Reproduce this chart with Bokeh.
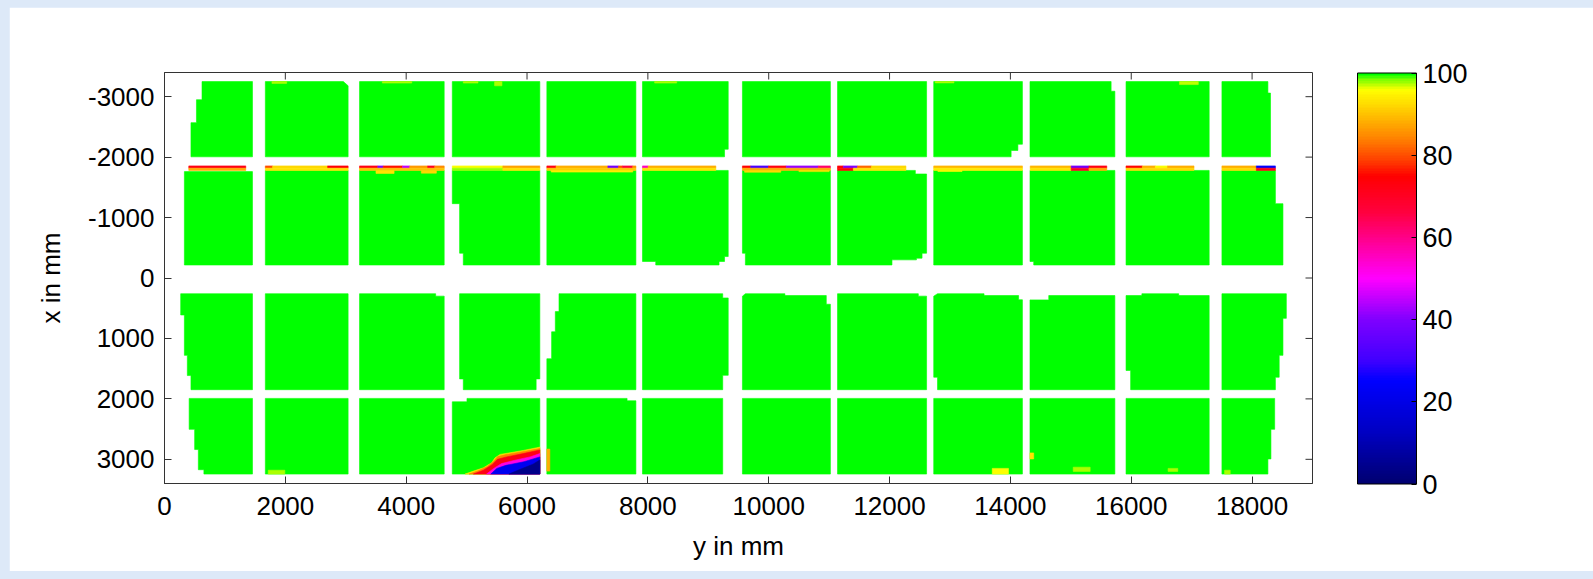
import math
from bokeh.plotting import figure
from bokeh.models import (Range1d, FixedTicker, ColorBar, LinearColorMapper, ColumnDataSource)
from bokeh.embed import file_html
from bokeh.resources import INLINE

# ---------------- data (mm) ----------------
# horizontal coordinate = "y in mm", vertical coordinate = "x in mm"
x_ticks = [0, 2000, 4000, 6000, 8000, 10000, 12000, 14000, 16000, 18000]
y_ticks = [-3000, -2000, -1000, 0, 1000, 2000, 3000]
cb_ticks = [0, 20, 40, 60, 80, 100]

panel_value = 100

row1_panels = [
    [(621, -3250), (1456, -3250), (1456, -2005), (438, -2005), (438, -2570), (529, -2570), (529, -2950), (621, -2950)],
    [(1669, -3250), (2960, -3250), (3039, -3180), (3039, -2005), (1669, -2005)],
    [(3228, -3250), (4629, -3250), (4629, -2005), (3228, -2005)],
    [(4763, -3250), (6212, -3250), (6212, -2005), (4763, -2005)],
    [(6328, -3250), (7802, -3250), (7802, -2005), (6328, -2005)],
    [(7911, -3250), (9330, -3250), (9330, -2130), (9269, -2130), (9269, -2005), (7911, -2005)],
    [(9565, -3250), (11021, -3250), (11021, -2005), (9565, -2005)],
    [(11139, -3250), (12613, -3250), (12613, -2005), (11139, -2005)],
    [(12731, -3250), (14199, -3250), (14199, -2213), (14124, -2213), (14124, -2110), (14012, -2110), (14012, -2005), (12731, -2005)],
    [(14324, -3250), (15667, -3250), (15667, -3090), (15729, -3090), (15729, -2005), (14324, -2005)],
    [(15914, -3250), (17290, -3250), (17290, -2005), (15914, -2005)],
    [(17501, -3250), (18262, -3250), (18262, -3060), (18305, -3060), (18305, -2005), (17501, -2005)],
]

row2_panels = [
    [(329, -1760), (1456, -1760), (1456, -215), (329, -215)],
    [(1669, -1780), (3039, -1780), (3039, -215), (1669, -215)],
    [(3228, -1780), (4629, -1780), (4629, -215), (3228, -215)],
    [(4763, -1780), (6212, -1780), (6212, -215), (4945, -215), (4945, -410), (4884, -410), (4884, -1230), (4763, -1230)],
    [(6328, -1780), (7802, -1780), (7802, -215), (6328, -215)],
    [(7911, -1780), (9330, -1780), (9330, -355), (9269, -355), (9269, -273), (9178, -273), (9178, -215), (8130, -215), (8130, -273), (7911, -273)],
    [(9565, -1780), (11021, -1780), (11021, -215), (9614, -215), (9614, -410), (9565, -410)],
    [(11139, -1780), (12427, -1780), (12427, -1721), (12613, -1721), (12613, -410), (12538, -410), (12538, -328), (12445, -328), (12445, -300), (12040, -300), (12040, -215), (11139, -215)],
    [(12731, -1780), (14199, -1780), (14199, -215), (12731, -215)],
    [(14324, -1780), (15729, -1780), (15729, -215), (14386, -215), (14386, -273), (14324, -273)],
    [(15914, -1780), (17290, -1780), (17290, -215), (15914, -215)],
    [(17501, -1780), (18386, -1780), (18386, -1230), (18511, -1230), (18511, -215), (17501, -215)],
]

row3_panels = [
    [(268, 260), (1456, 260), (1456, 1848), (438, 1848), (438, 1614), (378, 1614), (378, 1280), (329, 1280), (329, 612), (268, 612)],
    [(1669, 260), (3039, 260), (3039, 1848), (1669, 1848)],
    [(3228, 260), (4488, 260), (4488, 300), (4629, 300), (4629, 1848), (3228, 1848)],
    [(4884, 260), (6212, 260), (6212, 1670), (6151, 1670), (6151, 1848), (4945, 1848), (4945, 1670), (4884, 1670)],
    [(6529, 260), (7802, 260), (7802, 1848), (6328, 1848), (6328, 1336), (6407, 1336), (6407, 890), (6468, 890), (6468, 556), (6529, 556)],
    [(7911, 260), (9239, 260), (9239, 330), (9330, 330), (9330, 1610), (9239, 1610), (9239, 1848), (7911, 1848)],
    [(9614, 260), (10268, 260), (10268, 290), (10953, 290), (10953, 434), (11021, 434), (11021, 1848), (9565, 1848), (9565, 300)],
    [(11139, 260), (12476, 260), (12476, 300), (12613, 300), (12613, 1848), (11139, 1848)],
    [(12794, 260), (13564, 260), (13564, 290), (14136, 290), (14136, 360), (14199, 360), (14199, 1848), (12794, 1848), (12794, 1642), (12731, 1642), (12731, 300)],
    [(14324, 362), (14635, 362), (14635, 290), (15729, 290), (15729, 1848), (14324, 1848)],
    [(15914, 290), (16176, 290), (16176, 260), (16786, 260), (16786, 290), (17290, 290), (17290, 1848), (15990, 1848), (15990, 1530), (15914, 1530)],
    [(17501, 260), (18567, 260), (18567, 668), (18511, 668), (18511, 1280), (18449, 1280), (18449, 1642), (18386, 1642), (18386, 1848), (17501, 1848)],
]

row4_panels = [
    [(408, 1992), (1456, 1992), (1456, 3244), (652, 3244), (652, 3172), (560, 3172), (560, 2838), (499, 2838), (499, 2504), (408, 2504)],
    [(1669, 1992), (3039, 1992), (3039, 3244), (1669, 3244)],
    [(3228, 1992), (4629, 1992), (4629, 3244), (3228, 3244)],
    [(4763, 2048), (5006, 2048), (5006, 1992), (6212, 1992), (6212, 3244), (4763, 3244)],
    [(6328, 1992), (7656, 1992), (7656, 2031), (7802, 2031), (7802, 3244), (6328, 3244)],
    [(7911, 1992), (9239, 1992), (9239, 3244), (7911, 3244)],
    [(9565, 1992), (11021, 1992), (11021, 3244), (9565, 3244)],
    [(11139, 1992), (12613, 1992), (12613, 3244), (11139, 3244)],
    [(12731, 1992), (14199, 1992), (14199, 3244), (12731, 3244)],
    [(14324, 1992), (15729, 1992), (15729, 3244), (14324, 3244)],
    [(15914, 1992), (17290, 1992), (17290, 3244), (15914, 3244)],
    [(17501, 1992), (18374, 1992), (18374, 2504), (18312, 2504), (18312, 2994), (18262, 2994), (18262, 3244), (17501, 3244)],
]

# thin strip along the top of the second panel row: (start, end, value)
strip_upper_band = (-1855, -1817)
strip_upper = [
    (402, 1345, 72),
    (1669, 1790, 80), (1790, 2700, 92), (2700, 3039, 74),
    (3228, 3530, 72), (3530, 3620, 40), (3620, 3940, 76), (3940, 4060, 45), (4060, 4355, 86), (4355, 4473, 70), (4473, 4629, 85),
    (4763, 5600, 96), (5600, 6212, 87),
    (6328, 6480, 72), (6480, 7338, 88), (7338, 7515, 38), (7515, 7580, 80), (7580, 7750, 66), (7750, 7802, 85),
    (7911, 8005, 55), (8005, 9125, 88),
    (9565, 9702, 74), (9702, 9997, 32), (9997, 10290, 72), (10290, 10820, 42), (10820, 11021, 62),
    (11139, 11234, 74), (11234, 11470, 40), (11470, 11700, 82), (11700, 12271, 92),
    (12731, 14199, 89),
    (14328, 15006, 89), (15006, 15300, 38), (15300, 15595, 72),
    (15914, 16184, 75), (16184, 16400, 88), (16400, 16600, 96), (16600, 17039, 88),
    (17501, 18070, 88), (18070, 18386, 25),
]
strip_lower_band = (-1817, -1780)
strip_lower = [
    (402, 1345, 88),
    (1669, 3039, 93),
    (3228, 4629, 90),
    (4763, 5600, 98), (5600, 6212, 93),
    (6328, 7802, 91),
    (7911, 9125, 93),
    (9565, 11021, 88),
    (11139, 11400, 75), (11400, 12271, 93),
    (12731, 14199, 94),
    (14328, 15006, 93), (15006, 15300, 70), (15300, 15595, 88),
    (15914, 17039, 92),
    (17501, 18070, 92), (18070, 18386, 72),
]

# small spots: (h0, h1, v0, v1, value)
spots = [
    (3500, 3800, -1780, -1730, 93), (4250, 4500, -1780, -1735, 92),
    (6400, 7750, -1780, -1752, 94), (9600, 10200, -1780, -1750, 92),
    (10500, 11000, -1780, -1760, 93), (12800, 13200, -1780, -1762, 95),
    (1778, 2022, -3250, -3220, 97.5), (3605, 4093, -3250, -3225, 97.5),
    (4945, 5189, -3250, -3225, 97.5), (5463, 5585, -3250, -3180, 97.5),
    (8112, 8477, -3250, -3225, 97.5), (12756, 13067, -3250, -3228, 97.5),
    (16798, 17110, -3250, -3200, 97),
    (1717, 1991, 3180, 3244, 97.5), (13700, 13968, 3150, 3244, 96),
    (14324, 14386, 2894, 2994, 93), (15040, 15320, 3130, 3200, 97.5),
    (16610, 16770, 3150, 3200, 97.5), (17545, 17638, 3180, 3244, 97.5),
    (6328, 6378, 2831, 3195, 88),
]

# low-value region in the lower panel near y = 6000 mm (nested contours)
blob_values = [93, 84, 72, 52, 22, 4]
blob_contours = [
    [(4975, 3244), (5113, 3195), (5278, 3140), (5415, 3057), (5470, 2975), (5553, 2919), (5718, 2892), (5938, 2853), (6158, 2809), (6212, 2798), (6212, 3244)],
    [(5040, 3244), (5190, 3190), (5340, 3120), (5445, 3035), (5515, 2955), (5650, 2922), (5900, 2878), (6212, 2822), (6212, 3244)],
    [(5113, 3244), (5278, 3180), (5420, 3090), (5510, 3000), (5663, 2960), (5938, 2905), (6212, 2845), (6212, 3244)],
    [(5330, 3244), (5450, 3150), (5580, 3070), (5800, 3015), (6050, 2960), (6212, 2905), (6212, 3244)],
    [(5400, 3244), (5500, 3150), (5650, 3100), (5950, 3040), (6212, 2960), (6212, 3244)],
    [(5700, 3244), (5900, 3160), (6100, 3080), (6212, 3010), (6212, 3244)],
]

cmap_anchors = [(0, "#000070"), (12, "#0000c0"), (25, "#0000ff"), (30, "#4000ff"),
                (40, "#8000ff"), (50, "#ff00ff"), (58, "#ff00a0"), (66, "#ff0040"),
                (75, "#ff0000"), (79, "#ff4000"), (84, "#ff8000"), (90, "#ffc000"),
                (96, "#ffff00"), (98.5, "#80ff00"), (100, "#00ff00")]


def build_palette(anchors, n=256):
    def rgb(h):
        return tuple(int(h[i:i + 2], 16) for i in (1, 3, 5))
    out = []
    for k in range(n):
        t = 100.0 * k / (n - 1)
        for (v0, c0), (v1, c1) in zip(anchors[:-1], anchors[1:]):
            if v0 <= t <= v1:
                f = (t - v0) / (v1 - v0) if v1 > v0 else 0
                a, b = rgb(c0), rgb(c1)
                col = tuple(round(a[i] + (b[i] - a[i]) * f) for i in range(3))
                out.append("#%02x%02x%02x" % col)
                break
    return out


palette = build_palette(cmap_anchors)
mapper = LinearColorMapper(palette=palette, low=0, high=100)

xs, ys, vals = [], [], []
for poly in row1_panels + row2_panels + row3_panels + row4_panels:
    xs.append([pt[0] for pt in poly]); ys.append([pt[1] for pt in poly]); vals.append(panel_value)
for (band, segs) in ((strip_upper_band, strip_upper), (strip_lower_band, strip_lower)):
    for h0, h1, val in segs:
        xs.append([h0, h1, h1, h0]); ys.append([band[0], band[0], band[1], band[1]]); vals.append(val)
for h0, h1, v0, v1, val in spots:
    xs.append([h0, h1, h1, h0]); ys.append([v0, v0, v1, v1]); vals.append(val)
for poly, val in zip(blob_contours, blob_values):
    xs.append([pt[0] for pt in poly]); ys.append([pt[1] for pt in poly]); vals.append(val)

src = ColumnDataSource(dict(xs=xs, ys=ys, val=vals))

FONT = "Liberation Sans"
AX = "#333333"
x_lo, x_hi = 0, 19000
y_top, y_bottom = -3400, 3400

p = figure(width=1584, height=564, x_range=Range1d(x_lo, x_hi), y_range=Range1d(y_bottom, y_top),
           output_backend="svg", toolbar_location=None,
           min_border_left=155, min_border_right=281, min_border_top=65, min_border_bottom=88,
           background_fill_color="white", border_fill_color="white",
           outline_line_color=AX)
p.grid.visible = False

p.patches("xs", "ys", source=src,
          fill_color={"field": "val", "transform": mapper},
          line_color={"field": "val", "transform": mapper}, line_width=0.6)

# inward ticks on the top and right edges of the box (half of each dash is clipped away)
p.scatter(x=x_ticks, y=[y_top] * len(x_ticks), marker="dash", angle=math.pi / 2,
          size=14, line_color=AX, line_width=1)
p.scatter(x=[x_hi] * len(y_ticks), y=y_ticks, marker="dash",
          size=14, line_color=AX, line_width=1)

for ax, ticks in ((p.xaxis[0], x_ticks), (p.yaxis[0], y_ticks)):
    ax.ticker = FixedTicker(ticks=ticks)
    ax.major_label_overrides = {t: str(t) for t in ticks}
    ax.major_tick_in = 7
    ax.major_tick_out = 0
    ax.minor_tick_line_color = None
    ax.axis_line_color = AX
    ax.major_tick_line_color = AX
    ax.major_label_text_font = FONT
    ax.major_label_text_font_size = "26px"
    ax.major_label_text_color = "black"
    ax.axis_label_text_font = FONT
    ax.axis_label_text_font_size = "26px"
    ax.axis_label_text_font_style = "normal"
    ax.axis_label_text_color = "black"

p.xaxis.axis_label = "y in mm"
p.yaxis.axis_label = "x in mm"
p.xaxis.major_label_standoff = 13
p.xaxis.axis_label_standoff = 13
p.yaxis.major_label_standoff = 10
p.yaxis.axis_label_standoff = 19

cb = ColorBar(color_mapper=mapper, ticker=FixedTicker(ticks=cb_ticks), width=59, height=411,
              padding=45, label_standoff=6, location="center",
              major_label_text_font=FONT, major_label_text_font_size="27px",
              major_label_text_color="black",
              major_tick_line_color="black", major_tick_in=5, major_tick_out=0,
              minor_tick_line_color=None,
              bar_line_color="black", bar_line_width=1,
              background_fill_color=None, border_line_color=None)
p.add_layout(cb, "right")

html = file_html(p, INLINE, title="panel map")
html = html.replace("</head>",
                    "<style>html,body{background:#dde9f8 !important;}"
                    "body{padding:7px 0 0 9px !important;overflow:hidden;}</style></head>", 1)
open("out.html", "w").write(html)
